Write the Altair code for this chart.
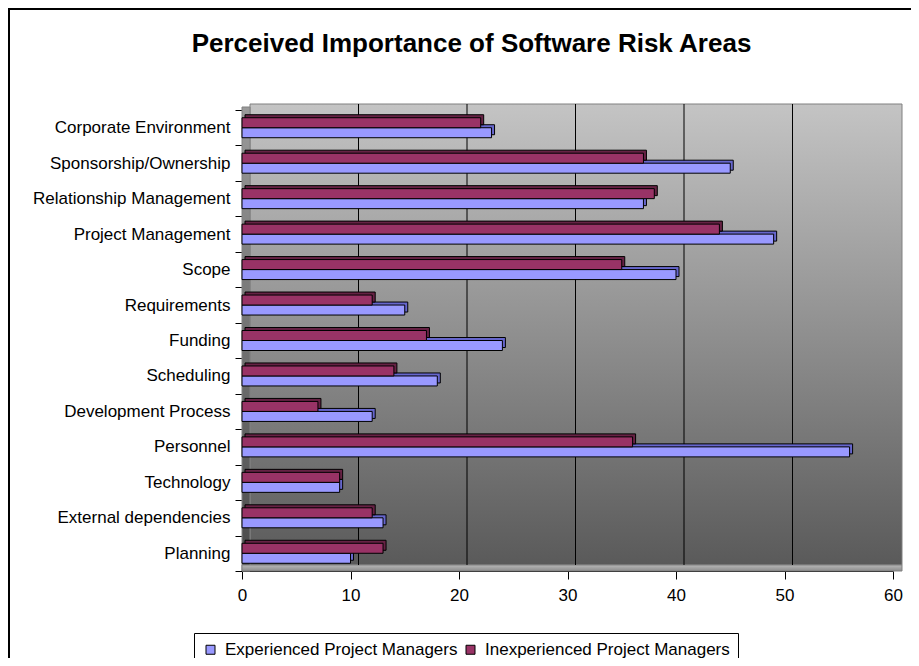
import altair as alt
import pandas as pd

categories = ["Corporate Environment", "Sponsorship/Ownership", "Relationship Management",
              "Project Management", "Scope ", "Requirements", "Funding", "Scheduling",
              "Development Process", "Personnel", "Technology", "External dependencies ", "Planning"]
experienced = [23, 45, 37, 49, 40, 15, 24, 18, 12, 56, 9, 13, 10]
inexperienced = [22, 37, 38, 44, 35, 12, 17, 14, 7, 36, 9, 12, 13]
series_names = ["Experienced Project Managers", "Inexperienced Project Managers"]
series_colors = ["#9999FF", "#993366"]
depth_colors = ["#6666CC", "#662244"]
x_ticks = [0, 10, 20, 30, 40, 50, 60]
grid_values = [10, 20, 30, 40, 50]

rows = []
for c, e, i in zip(categories, experienced, inexperienced):
    rows.append({"category": c, "series": series_names[0], "value": e})
    rows.append({"category": c, "series": series_names[1], "value": i})
df = pd.DataFrame(rows)

W, H = 651, 461
BAND = H / len(categories)
D = 3
one = pd.DataFrame({"a": [0]})

xscale = alt.Scale(domain=[0, 60], nice=False, zero=True)
yscale = alt.Scale(domain=categories, paddingInner=0, paddingOuter=0)
order = [series_names[1], series_names[0]]
yoff_front = alt.YOffset("series:N", sort=order,
                         scale=alt.Scale(domain=order, range=[0, BAND],
                                         paddingInner=0, paddingOuter=0.773))
yoff_depth = alt.YOffset("series:N", sort=order,
                         scale=alt.Scale(domain=order, range=[-D, BAND - D],
                                         paddingInner=0, paddingOuter=0.773))

wall = alt.Chart(one).mark_rect(
    color=alt.LinearGradient(gradient="linear", x1=0, x2=0, y1=0, y2=1,
                             stops=[alt.GradientStop(color="#C4C4C4", offset=0),
                                    alt.GradientStop(color="#5A5A5A", offset=1)]),
    stroke="#808080", strokeWidth=1
).encode(x=alt.value(8), x2=alt.value(W + 9), y=alt.value(-6), y2=alt.value(H - 6))

side = alt.Chart(one).mark_rect(
    color=alt.LinearGradient(gradient="linear", x1=0, x2=0, y1=0, y2=1,
                             stops=[alt.GradientStop(color="#9A9A9A", offset=0),
                                    alt.GradientStop(color="#4A4A4A", offset=1)]),
    stroke="#808080", strokeWidth=1
).encode(x=alt.value(0), x2=alt.value(8), y=alt.value(-3), y2=alt.value(H))

floor = alt.Chart(one).mark_rect(
    color=alt.LinearGradient(gradient="linear", x1=0, x2=0, y1=0, y2=1,
                             stops=[alt.GradientStop(color="#B8B8B8", offset=0),
                                    alt.GradientStop(color="#8C8C8C", offset=1)]),
    stroke="#808080", strokeWidth=1
).encode(x=alt.value(0), x2=alt.value(W + 9), y=alt.value(H - 6), y2=alt.value(H))

grid = alt.Chart(pd.DataFrame({"g": grid_values})).mark_rule(
    color="#000000", strokeWidth=1, xOffset=8
).encode(x=alt.X("g:Q", scale=xscale), y=alt.value(-6), y2=alt.value(H - 6))

depth = alt.Chart(df).mark_bar(xOffset=D, stroke="#000000", strokeWidth=1).encode(
    x=alt.X("value:Q", scale=xscale),
    y=alt.Y("category:N", scale=yscale),
    yOffset=yoff_depth,
    fill=alt.condition(alt.datum.series == series_names[0],
                       alt.value(depth_colors[0]), alt.value(depth_colors[1])),
)

front = alt.Chart(df).mark_bar(stroke="#000000", strokeWidth=1).encode(
    x=alt.X("value:Q", scale=xscale,
            axis=alt.Axis(values=x_ticks, title=None, grid=False, domainColor="#000000",
                          tickColor="#000000", tickSize=8, labelFontSize=17,
                          labelColor="#000000", labelPadding=8, labelFlush=False)),
    y=alt.Y("category:N", scale=yscale,
            axis=alt.Axis(title=None, tickBand="extent", domainColor="#000000",
                          tickColor="#000000", tickSize=7, labelFontSize=17,
                          labelColor="#000000", labelPadding=5, labelLimit=300)),
    yOffset=yoff_front,
    color=alt.Color("series:N", scale=alt.Scale(domain=series_names, range=series_colors),
                    legend=alt.Legend(orient="none", legendX=-48, legendY=523,
                                      direction="horizontal", title=None,
                                      strokeColor="#000000", fillColor="#FFFFFF",
                                      padding=8, symbolType="square", symbolSize=81,
                                      symbolStrokeColor="#000000", symbolStrokeWidth=1,
                                      symbolOpacity=1, labelFontSize=17, labelOffset=6,
                                      columnPadding=4, labelColor="#000000",
                                      labelLimit=400)),
    opacity=alt.value(1),
)

frame = alt.Chart(one).mark_rect(fillOpacity=0, stroke="#000000", strokeWidth=2).encode(
    x=alt.value(-233), x2=alt.value(W + 100), y=alt.value(-101), y2=alt.value(H + 200)
)

chart = alt.layer(wall, side, floor, grid, depth, front, frame).resolve_scale(
    yOffset="independent"
).properties(
    width=W, height=H,
    title=alt.TitleParams("Perceived Importance of Software Risk Areas", fontSize=26,
                          font="Liberation Sans", fontWeight="bold", color="#000000",
                          anchor="middle", dx=-96, offset=-70, baseline="alphabetic"),
    autosize=alt.AutoSizeParams(type="none"),
    padding={"left": 234, "top": 102, "right": 18, "bottom": 87},
).configure(font="Liberation Sans", background="#FFFFFF").configure_view(stroke=None)

chart.save("out.html", embed_options={"renderer": "svg", "actions": False})
